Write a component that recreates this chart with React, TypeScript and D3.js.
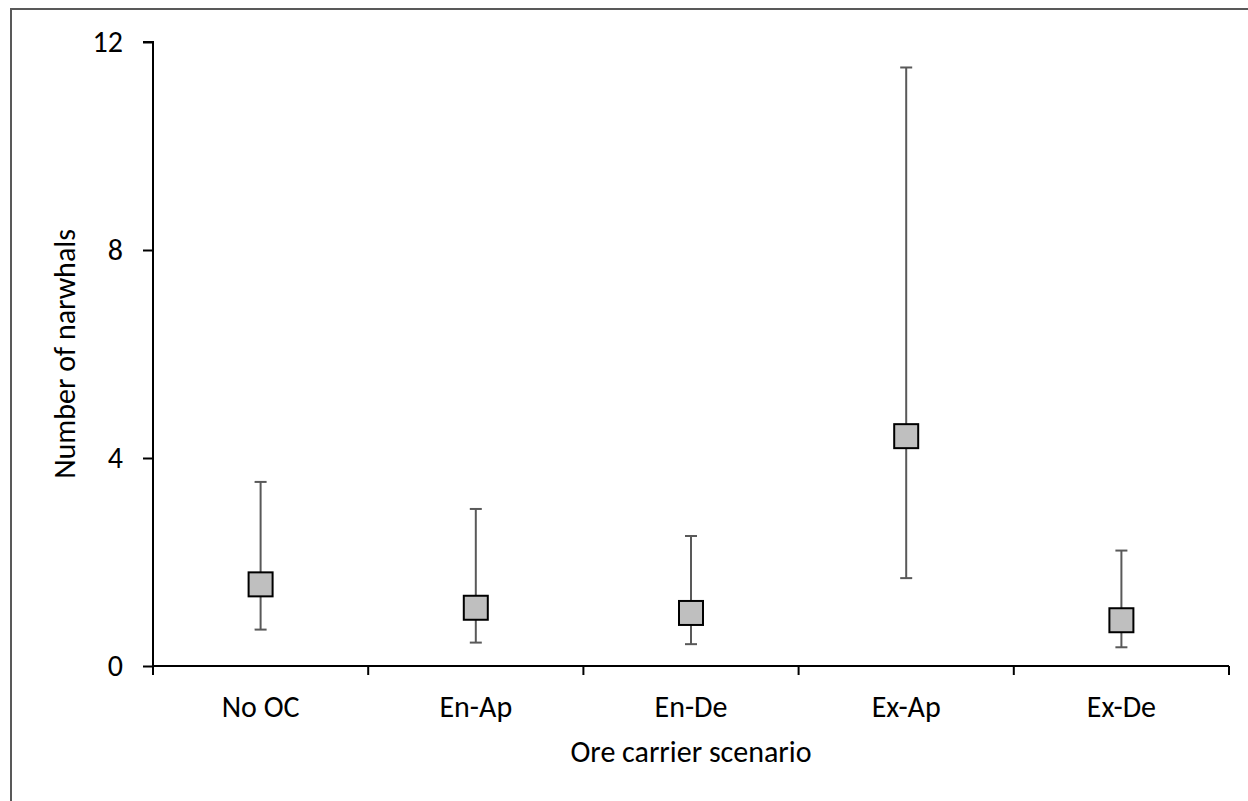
import React, { useEffect, useRef } from 'react';
import * as d3 from 'd3';

const categories = ['No OC', 'En-Ap', 'En-De', 'Ex-Ap', 'Ex-De'];
const means = [1.57, 1.12, 1.02, 4.42, 0.88];
const upper = [3.54, 3.02, 2.5, 11.51, 2.22];
const lower = [0.7, 0.45, 0.42, 1.69, 0.36];
const yTicks = [0, 4, 8, 12];

const W = 1248;
const H = 801;

const App = () => {
  const ref = useRef<SVGSVGElement | null>(null);

  useEffect(() => {
    if (!ref.current) return;
    const svg = d3.select(ref.current);
    svg.selectAll('*').remove();

    const font = 'Carlito, "Open Sans", "Noto Sans", sans-serif';
    const fontSize = '30px';
    const margin = { top: 42, right: 19, bottom: 135, left: 153 };

    const x = d3.scaleBand()
      .domain(categories)
      .range([margin.left, W - margin.right])
      .padding(0);

    const y = d3.scaleLinear()
      .domain([0, 12])
      .range([H - margin.bottom, margin.top]);

    // outer frame
    svg.append('rect')
      .attr('x', 11).attr('y', 9)
      .attr('width', W + 20).attr('height', H + 20)
      .attr('fill', 'none')
      .attr('stroke', '#595959')
      .attr('stroke-width', 2);

    // y axis
    svg.append('g')
      .attr('transform', `translate(${margin.left},0)`)
      .call(d3.axisLeft(y).tickValues(yTicks).tickSize(10).tickPadding(20))
      .call(g => {
        g.select('.domain').attr('stroke', '#000').attr('stroke-width', 2).attr('d', `M-10,${y(12)}H0V${y(0)}`);
        g.selectAll('line').attr('stroke', '#000').attr('stroke-width', 2);
        g.selectAll('text').attr('fill', '#000').style('font-size', fontSize).style('font-family', font);
      });

    // x axis
    const xAxis = svg.append('g')
      .attr('transform', `translate(0,${y(0)})`);
    xAxis.append('path')
      .attr('d', `M${margin.left},0H${W - margin.right}`)
      .attr('stroke', '#000').attr('stroke-width', 2);
    const bounds = categories.map(c => x(c) as number).concat([W - margin.right]);
    xAxis.selectAll('.xtick')
      .data(bounds)
      .enter().append('line')
      .attr('x1', d => d).attr('x2', d => d)
      .attr('y1', 0).attr('y2', 9)
      .attr('stroke', '#000').attr('stroke-width', 2);
    xAxis.selectAll('.xlab')
      .data(categories)
      .enter().append('text')
      .attr('x', d => (x(d) as number) + x.bandwidth() / 2)
      .attr('y', 51)
      .attr('text-anchor', 'middle')
      .style('font-size', fontSize)
      .style('font-family', font)
      .attr('fill', '#000')
      .text(d => d);

    // axis titles
    svg.append('text')
      .attr('x', (margin.left + W - margin.right) / 2)
      .attr('y', 762)
      .attr('text-anchor', 'middle')
      .style('font-size', fontSize)
      .style('font-family', font)
      .text('Ore carrier scenario');

    svg.append('text')
      .attr('transform', `translate(75,${(y(0) + y(12)) / 2}) rotate(-90)`)
      .attr('text-anchor', 'middle')
      .style('font-size', fontSize)
      .style('font-family', font)
      .text('Number of narwhals');

    // error bars
    const g = svg.append('g');
    categories.forEach((c, i) => {
      const cx = (x(c) as number) + x.bandwidth() / 2;
      g.append('line')
        .attr('x1', cx).attr('x2', cx)
        .attr('y1', y(upper[i])).attr('y2', y(lower[i]))
        .attr('stroke', '#595959').attr('stroke-width', 2);
      [upper[i], lower[i]].forEach(v => {
        g.append('line')
          .attr('x1', cx - 6).attr('x2', cx + 6)
          .attr('y1', y(v)).attr('y2', y(v))
          .attr('stroke', '#595959').attr('stroke-width', 2);
      });
      g.append('rect')
        .attr('x', cx - 12).attr('y', y(means[i]) - 12)
        .attr('width', 24).attr('height', 24)
        .attr('fill', '#bfbfbf')
        .attr('stroke', '#000')
        .attr('stroke-width', 2);
    });
  }, []);

  return (
    <svg ref={ref} width={W} height={H} style={{ position: 'absolute', left: 0, top: 0, background: '#fff' }} />
  );
};

export default App;
